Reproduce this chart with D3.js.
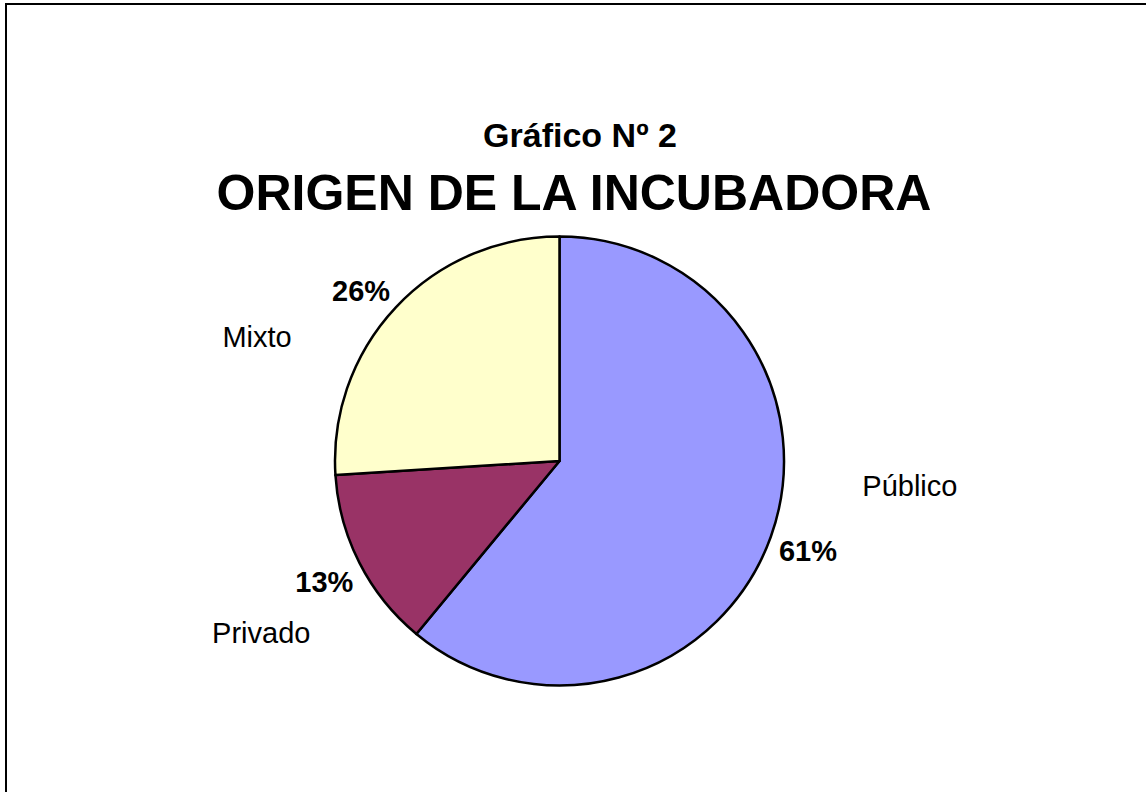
<!DOCTYPE html>
<html>
<head>
<meta charset="utf-8">
<script src="https://cdn.jsdelivr.net/npm/d3@7"></script>
<style>
  body { margin: 0; background: #fff; }
  text { font-family: "Liberation Sans", Arial, sans-serif; fill: #000; }
</style>
</head>
<body>
<div id="chart"></div>
<script>
// Data
var categories = ["Público", "Privado", "Mixto"];
var values = [61, 13, 26];
var colors = ["#9999FF", "#993366", "#FFFFCC"];

// Canvas
var width = 1146, height = 792;
var cx = 559.5, cy = 461, radius = 224.5;

var svg = d3.select("#chart")
    .append("svg")
    .attr("width", width)
    .attr("height", height);

// Chart frame (runs off the right / bottom)
svg.append("rect")
    .attr("x", 6).attr("y", 4)
    .attr("width", 1160).attr("height", 820)
    .attr("fill", "none")
    .attr("stroke", "#000")
    .attr("stroke-width", 2);

// Titles
svg.append("text")
    .attr("x", 580).attr("y", 147)
    .attr("text-anchor", "middle")
    .style("font-size", "34px")
    .style("font-weight", "bold")
    .text("Gráfico Nº 2");

svg.append("text")
    .attr("x", 574).attr("y", 210)
    .attr("text-anchor", "middle")
    .style("font-size", "50px")
    .style("font-weight", "bold")
    .text("ORIGEN DE LA INCUBADORA");

var data = categories.map(function (c, i) {
    return { name: c, value: values[i], color: colors[i] };
});

var pie = d3.pie()
    .sort(null)
    .value(function (d) { return d.value; });

var arc = d3.arc().innerRadius(0).outerRadius(radius);
var labelArc = d3.arc().innerRadius(264).outerRadius(264);

var g = svg.append("g")
    .attr("transform", "translate(" + cx + "," + cy + ")");

var arcs = pie(data);

g.selectAll("path")
    .data(arcs)
    .enter().append("path")
    .attr("d", arc)
    .attr("fill", function (d) { return d.data.color; })
    .attr("stroke", "#000")
    .attr("stroke-width", 2.5)
    .attr("stroke-linejoin", "round");

// label nudges (pixels)
var pctOffsets = [[0, 0], [0, 1], [-6, 10]];
var nameOffsets = [[102, -65], [-63, 51], [-104, 46]];

function pctPos(d, i) {
    var p = labelArc.centroid(d);
    return [p[0] + pctOffsets[i][0], p[1] + pctOffsets[i][1]];
}

// Percentage labels
var total = d3.sum(values);
g.selectAll(".pct")
    .data(arcs)
    .enter().append("text")
    .attr("class", "pct")
    .attr("transform", function (d, i) { return "translate(" + pctPos(d, i) + ")"; })
    .attr("dy", "0.36em")
    .attr("text-anchor", "middle")
    .style("font-size", "29px")
    .style("font-weight", "bold")
    .text(function (d) { return Math.round(d.data.value / total * 100) + "%"; });

// Category names, offset from their percentage labels
g.selectAll(".name")
    .data(arcs)
    .enter().append("text")
    .attr("class", "name")
    .attr("transform", function (d, i) {
        var p = pctPos(d, i);
        return "translate(" + (p[0] + nameOffsets[i][0]) + "," + (p[1] + nameOffsets[i][1]) + ")";
    })
    .attr("dy", "0.36em")
    .attr("text-anchor", "middle")
    .style("font-size", "29px")
    .text(function (d) { return d.data.name; });
</script>
</body>
</html>
